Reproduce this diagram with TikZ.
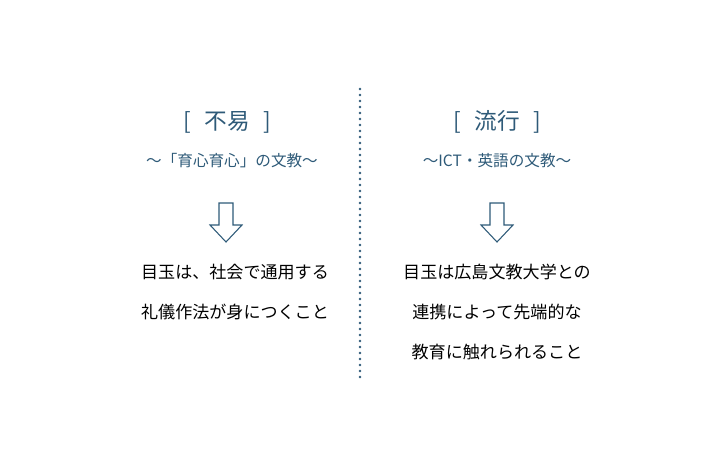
\documentclass[tikz,border=0pt]{standalone}
\usepackage{fontspec}
\setmainfont{Noto Sans CJK JP}
\definecolor{tb}{HTML}{2E5A78}
\begin{document}
\begin{tikzpicture}[x=0.75pt,y=-0.75pt,
  ttl/.style={text=tb,font=\fontsize{17}{20}\selectfont},
  sub/.style={text=tb,font=\fontsize{11.7}{14}\selectfont},
  body/.style={text=black,font=\fontsize{12.8}{15}\selectfont},
  arr/.style={draw=tb,line width=0.8pt,fill=white}]
\useasboundingbox (0,0) rectangle (724,468);
\node[ttl] (t1) at (227,122) {[\hspace{0.6em}不易\hspace{0.6em}]};
\node[ttl] (t2) at (497,122) {[\hspace{0.6em}流行\hspace{0.6em}]};
\node[sub] (s1) at (232,161) {〜「育心育心」の文教〜};
\node[sub] (s2) at (497,161) {〜ICT・英語の文教〜};
\foreach \cx/\n in {226/a1,497/a2}{
  \draw[arr] (\cx-7,203) -- (\cx+7,203) -- (\cx+7,225) -- (\cx+16,225) -- (\cx,242) -- (\cx-16,225) -- (\cx-7,225) -- cycle;
}
\node[body] (l1) at (235,272) {目玉は、社会で通用する};
\node[body] (l2) at (235,312) {礼儀作法が身につくこと};
\node[body] (r1) at (497,272) {目玉は広島文教大学との};
\node[body] (r2) at (497,312) {連携によって先端的な};
\node[body] (r3) at (497,352) {教育に触れられること};
\coordinate (d1) at (360,89);
\coordinate (d2) at (360,380);
\draw[tb,line width=2pt,line cap=round,dash pattern=on 0pt off 4.5pt] (d1) -- (d2);
\end{tikzpicture}
\end{document}
